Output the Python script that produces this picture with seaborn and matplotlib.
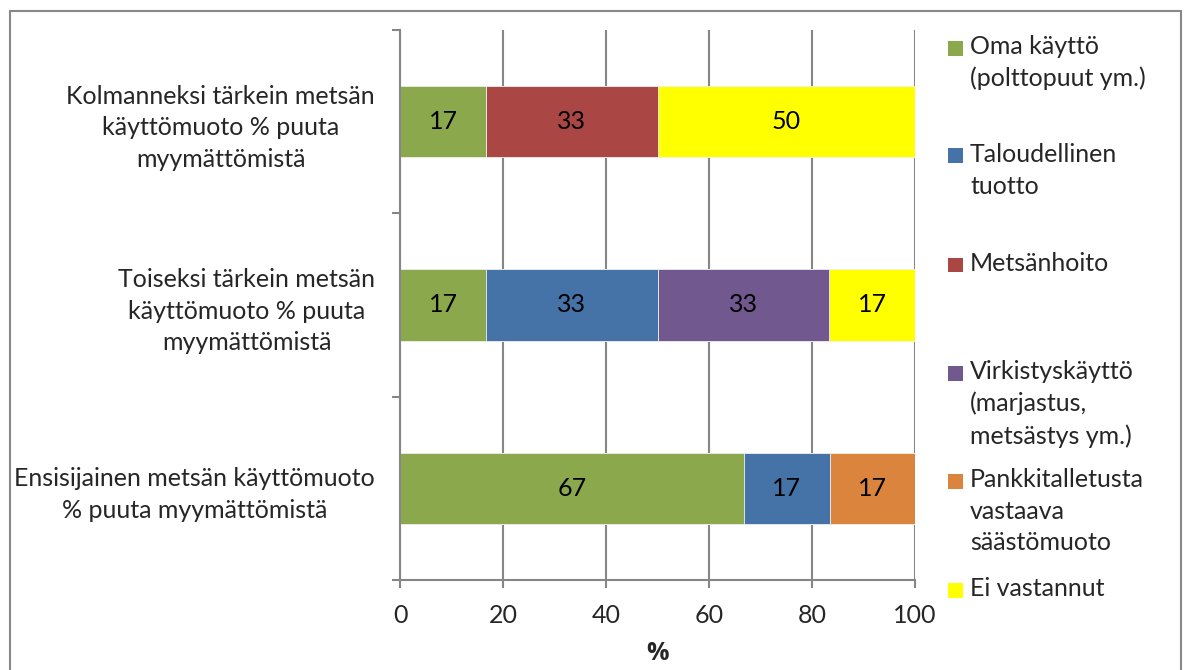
import seaborn as sns
import pandas as pd
import numpy as np
import matplotlib.pyplot as plt
from matplotlib.patches import Rectangle

# categories, top to bottom
categories = [
    "Kolmanneksi tärkein metsän\nkäyttömuoto % puuta\nmyymättömistä",
    "Toiseksi tärkein metsän\nkäyttömuoto % puuta\nmyymättömistä",
    "Ensisijainen metsän käyttömuoto\n% puuta myymättömistä",
]
series = [
    "Oma käyttö\n(polttopuut ym.)",
    "Taloudellinen\ntuotto",
    "Metsänhoito",
    "Virkistyskäyttö\n(marjastus,\nmetsästys ym.)",
    "Pankkitalletusta\nvastaava\nsäästömuoto",
    "Ei vastannut",
]
oma = [16.7, 16.7, 66.7]
talous = [0, 33.3, 16.7]
hoito = [33.3, 0, 0]
virkistys = [0, 33.3, 0]
pankki = [0, 0, 16.6]
ei_vast = [50.0, 16.7, 0]
colors = ["#8BA84D", "#4572A7", "#AA4643", "#71588F", "#DB843D", "#FFFF00"]
x_ticks = [0, 20, 40, 60, 80, 100]

sns.set_theme(style="white")
plt.rcParams['font.family'] = ['Lato', 'DejaVu Sans']
FS = 18

df = pd.DataFrame({'cat': categories, 'oma': oma, 'talous': talous, 'hoito': hoito,
                   'virkistys': virkistys, 'pankki': pankki, 'ei': ei_vast})
cols = ['oma', 'talous', 'hoito', 'virkistys', 'pankki', 'ei']
cum = df[cols].cumsum(axis=1)

fig = plt.figure(figsize=(11.87, 6.70), dpi=100)
ax = fig.add_axes([400 / 1187, 1 - 580 / 670, 515 / 1187, 550 / 670])

ax.set_axisbelow(True)
ax.xaxis.grid(True, color='#868686', linewidth=1.5)

# stacked bars: draw cumulative totals from last to first
for k in range(len(cols) - 1, -1, -1):
    sns.barplot(x=cum[cols[k]], y=df['cat'], orient='h', color=colors[k],
                width=0.39, ax=ax, saturation=1, edgecolor='#f0f0f0', linewidth=0.6)

# value labels in the middle of each segment
for i in range(len(categories)):
    for k, c in enumerate(cols):
        v = df[c][i]
        if v > 0:
            ax.text(cum[c][i] - v / 2, i, f"{v:.0f}", ha='center', va='center',
                    fontsize=FS, color='black')

ax.set_xlim(0, 100)
ax.set_ylim(2.5, -0.5)
ax.set_xticks(x_ticks)
ax.set_xticklabels([str(t) for t in x_ticks], fontsize=FS)
ax.set_yticks(range(len(categories)))
ax.set_yticklabels(categories, fontsize=FS, linespacing=1.45)
for lab in ax.get_yticklabels():
    lab.set_multialignment('center')
ax.set_yticks([-0.5, 0.5, 1.5, 2.5], minor=True)
ax.tick_params(axis='y', which='major', length=0, pad=18)
ax.tick_params(axis='y', which='minor', length=6, width=1.5, color='#868686', left=True)
ax.tick_params(axis='x', which='major', length=6, width=1.5, color='#868686', bottom=True, pad=11)
ax.set_xlabel('%', fontsize=FS, fontweight='bold', family='Open Sans', labelpad=10)
ax.set_ylabel('')

for s in ['top', 'right']:
    ax.spines[s].set_visible(False)
for s in ['left', 'bottom']:
    ax.spines[s].set_color('#868686')
    ax.spines[s].set_linewidth(1.5)

# legend on the right, one entry per series
leg_y = [48, 156, 265, 373, 481, 590]
for k, lab in enumerate(series):
    y = 1 - leg_y[k] / 670
    fig.patches.append(Rectangle((948 / 1187, y - 7.5 / 670), 15 / 1187, 15 / 670,
                                 transform=fig.transFigure, facecolor=colors[k],
                                 edgecolor='none'))
    fig.text(970 / 1187, y + 13 / 670, lab, ha='left', va='top', fontsize=FS,
             linespacing=1.45)

# chart frame
fig.patches.append(Rectangle((10 / 1187, -10 / 670), 1171 / 1187, 669 / 670,
                             transform=fig.transFigure, facecolor='none',
                             edgecolor='#888888', linewidth=1.5))

plt.savefig('out.png', dpi=100)
plt.close()
